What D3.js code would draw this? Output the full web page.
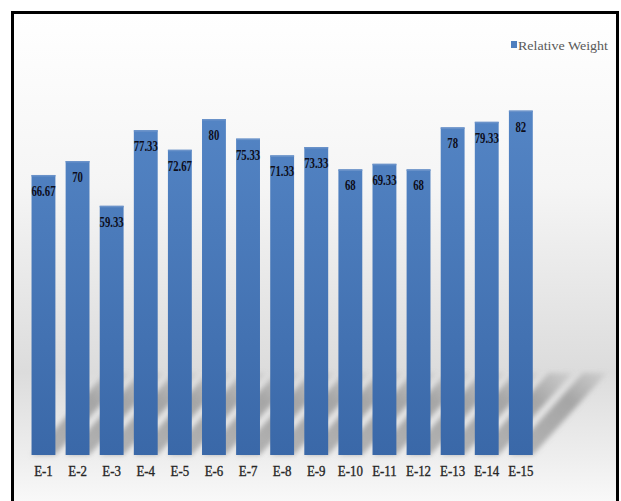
<!DOCTYPE html>
<html>
<head>
<meta charset="utf-8">
<script src="https://cdn.jsdelivr.net/npm/d3@7"></script>
<style>
  body { margin: 0; background: #fff; }
  svg { display: block; }
</style>
</head>
<body>
<svg id="chart" width="621" height="501"></svg>
<script>
// data
const categories = ["E-1", "E-2", "E-3", "E-4", "E-5", "E-6", "E-7", "E-8", "E-9", "E-10", "E-11", "E-12", "E-13", "E-14", "E-15"];
const values = [66.67, 70, 59.33, 77.33, 72.67, 80, 75.33, 71.33, 73.33, 68, 69.33, 68, 78, 79.33, 82];
const valueLabels = ["66.67", "70", "59.33", "77.33", "72.67", "80", "75.33", "71.33", "73.33", "68", "69.33", "68", "78", "79.33", "82"];
const seriesName = "Relative Weight";

const svg = d3.select("#chart");
const baseY = 455;
const serif = "'Liberation Serif', 'Times New Roman', serif";

const defs = svg.append("defs");

// background gradient (white at top, grey floor, lighter at bottom)
const bg = defs.append("linearGradient").attr("id", "bg")
    .attr("x1", 0).attr("y1", 0).attr("x2", 0).attr("y2", 1);
bg.append("stop").attr("offset", "0").attr("stop-color", "#ffffff");
bg.append("stop").attr("offset", "0.35").attr("stop-color", "#f5f5f5");
bg.append("stop").attr("offset", "0.72").attr("stop-color", "#dcdcdc");
bg.append("stop").attr("offset", "0.9").attr("stop-color", "#efefef");
bg.append("stop").attr("offset", "1").attr("stop-color", "#fbfbfb");

// bar fill
const barGrad = defs.append("linearGradient").attr("id", "barGrad")
    .attr("gradientUnits", "userSpaceOnUse")
    .attr("x1", 0).attr("y1", 110).attr("x2", 0).attr("y2", baseY);
barGrad.append("stop").attr("offset", "0").attr("stop-color", "#5485c5");
barGrad.append("stop").attr("offset", "1").attr("stop-color", "#3a68a8");

// shadow fade
const shGrad = defs.append("linearGradient").attr("id", "shGrad")
    .attr("x1", 0).attr("y1", 1).attr("x2", 1).attr("y2", 0);
shGrad.append("stop").attr("offset", "0").attr("stop-color", "#8c8c8c").attr("stop-opacity", 0.6);
shGrad.append("stop").attr("offset", "0.65").attr("stop-color", "#8c8c8c").attr("stop-opacity", 0.7);
shGrad.append("stop").attr("offset", "1").attr("stop-color", "#8c8c8c").attr("stop-opacity", 0.15);

defs.append("filter").attr("id", "blur")
    .attr("x", "-20%").attr("y", "-20%").attr("width", "140%").attr("height", "140%")
  .append("feGaussianBlur").attr("stdDeviation", 2.5);

svg.append("rect")
    .attr("x", 12).attr("y", 12).attr("width", 606).attr("height", 500)
    .attr("fill", "url(#bg)");

const x = d3.scaleBand()
    .domain(categories)
    .range([21.3, 543])
    .padding(0.3);

const y = d3.scaleLinear()
    .domain([0, 100])
    .range([baseY, 35]);

const data = categories.map((c, i) => ({ cat: c, value: values[i], label: valueLabels[i] }));

// shadows on the floor
const sdx = 74, sdy = -82;
svg.append("g")
    .attr("filter", "url(#blur)")
  .selectAll("polygon")
  .data(data)
  .join("polygon")
    .attr("points", d => {
      const x0 = x(d.cat), x1 = x0 + x.bandwidth();
      return [[x0, baseY], [x1, baseY], [x1 + sdx, baseY + sdy], [x0 + sdx, baseY + sdy]].join(" ");
    })
    .attr("fill", "url(#shGrad)");

// bars
const bars = svg.append("g");
bars.selectAll("rect.bar")
  .data(data)
  .join("rect")
    .attr("class", "bar")
    .attr("x", d => x(d.cat))
    .attr("y", d => y(d.value))
    .attr("width", x.bandwidth())
    .attr("height", d => y(0) - y(d.value))
    .attr("fill", "url(#barGrad)");

bars.selectAll("rect.cap")
  .data(data)
  .join("rect")
    .attr("class", "cap")
    .attr("x", d => x(d.cat))
    .attr("y", d => y(d.value))
    .attr("width", x.bandwidth())
    .attr("height", 1.5)
    .attr("fill", "#6a92c9");

// value labels inside the top of each bar
svg.append("g")
  .selectAll("text")
  .data(data)
  .join("text")
    .attr("transform", d => `translate(${x(d.cat) + x.bandwidth() / 2},${y(d.value) + 21}) scale(0.74,1)`)
    .attr("text-anchor", "middle")
    .attr("font-family", serif)
    .attr("font-weight", "bold")
    .attr("font-size", 14.5)
    .attr("fill", "#0d0d1a")
    .text(d => d.label);

// category axis
const xAxis = svg.append("g")
    .attr("transform", `translate(0,${baseY})`)
    .attr("font-family", serif)
    .call(d3.axisBottom(x).tickSize(0).tickPadding(10));
xAxis.select(".domain").remove();
xAxis.selectAll("text")
    .attr("font-family", serif)
    .attr("font-size", 15)
    .attr("fill", "#262626")
    .attr("stroke", "#262626")
    .attr("stroke-width", 0.35)
    .attr("transform", "scale(0.86,1)");
xAxis.selectAll(".tick")
    .attr("transform", d => `translate(${x(d) + x.bandwidth() / 2},0)`)
  .select("text")
    .attr("transform", "scale(0.86,1)");

// legend
const legend = svg.append("g").attr("transform", "translate(511,41)");
legend.append("rect")
    .attr("width", 6).attr("height", 7)
    .attr("fill", "#4f7fbf");
legend.append("text")
    .attr("x", 7).attr("y", 9)
    .attr("font-family", serif)
    .attr("font-size", 13.5)
    .attr("fill", "#595959")
    .attr("textLength", 90)
    .attr("lengthAdjust", "spacingAndGlyphs")
    .text(seriesName);

// outer frame
svg.append("rect")
    .attr("x", 12.5).attr("y", 12.5).attr("width", 605).attr("height", 500)
    .attr("fill", "none")
    .attr("stroke", "#000")
    .attr("stroke-width", 3);
</script>
</body>
</html>
